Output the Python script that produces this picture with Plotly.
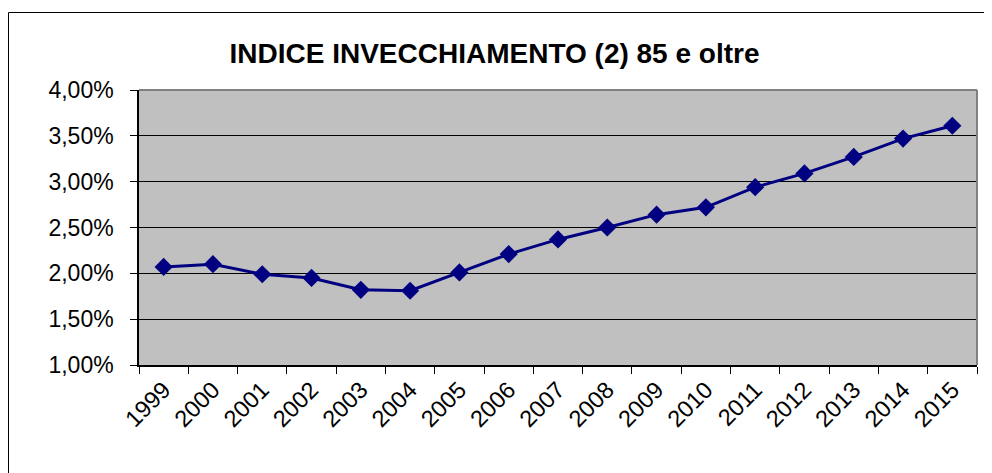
import plotly.graph_objects as go

years = ["1999", "2000", "2001", "2002", "2003", "2004", "2005", "2006", "2007",
         "2008", "2009", "2010", "2011", "2012", "2013", "2014", "2015"]
values = [0.0207, 0.0210, 0.0199, 0.0195, 0.0182, 0.0181, 0.0201, 0.0221, 0.0237,
          0.0250, 0.0264, 0.0272, 0.0294, 0.0309, 0.0327, 0.0347, 0.0361]
y_ticks = [0.01, 0.015, 0.02, 0.025, 0.03, 0.035, 0.04]
y_ticklabels = ["1,00%", "1,50%", "2,00%", "2,50%", "3,00%", "3,50%", "4,00%"]
title_text = "INDICE INVECCHIAMENTO (2) 85 e oltre"

# page body has an 8px margin, so the figure is sized/offset accordingly
OFF = 8
W, H = 992 - OFF, 473 - OFF
L, R, T, B = 139 - OFF, 15, 90 - OFF, 108
pw, ph = W - L - R, H - T - B

fig = go.Figure()
fig.add_trace(go.Scatter(
    x=years, y=values, mode="lines+markers",
    line=dict(color="#000080", width=3),
    marker=dict(symbol="diamond", size=14, color="#000080"),
    hoverinfo="x+y", showlegend=False,
))

font_family = "Liberation Sans, Arial, sans-serif"
fig.update_layout(
    width=W, height=H,
    margin=dict(l=L, r=R, t=T, b=B, pad=0),
    paper_bgcolor="white",
    plot_bgcolor="#C0C0C0",
    font=dict(family=font_family, color="black", size=23),
    title=dict(text="<b>" + title_text + "</b>", x=(494.5 - OFF) / W, xref="container",
               xanchor="center", y=1 - (53 - OFF) / H, yref="container", yanchor="middle",
               font=dict(size=28, family=font_family, color="black")),
    xaxis=dict(
        type="category", tickangle=-45, tickson="boundaries",
        ticks="outside", ticklen=7, tickcolor="black", tickwidth=1,
        showline=True, linecolor="black", linewidth=1.5,
        showgrid=False, zeroline=False,
        tickfont=dict(size=23.5), range=[-0.5, len(years) - 0.5],
    ),
    yaxis=dict(
        range=[0.01, 0.04], tickvals=y_ticks, ticktext=y_ticklabels,
        ticks="outside", ticklen=7, tickcolor="black", tickwidth=1,
        showline=True, linecolor="black", linewidth=1.5,
        showgrid=True, gridcolor="black", gridwidth=1, zeroline=False,
        tickfont=dict(size=23), ticklabelstandoff=12,
    ),
)

# grey border on top and right of the plot area
fig.add_shape(type="line", xref="paper", yref="paper", x0=0, x1=1, y0=1, y1=1,
              line=dict(color="#808080", width=2))
fig.add_shape(type="line", xref="paper", yref="paper", x0=1, x1=1, y0=0, y1=1,
              line=dict(color="#808080", width=2))
# outer chart border (extends past right and bottom edges)
fig.add_shape(type="rect", xref="paper", yref="paper",
              x0=(0.5 - L) / pw, x1=(W + 20 - L) / pw,
              y0=(H - B - (H + 20)) / ph, y1=(H - B - (12.5 - OFF)) / ph,
              line=dict(color="black", width=1), fillcolor="rgba(0,0,0,0)", layer="below")

fig.write_html("out.html")
